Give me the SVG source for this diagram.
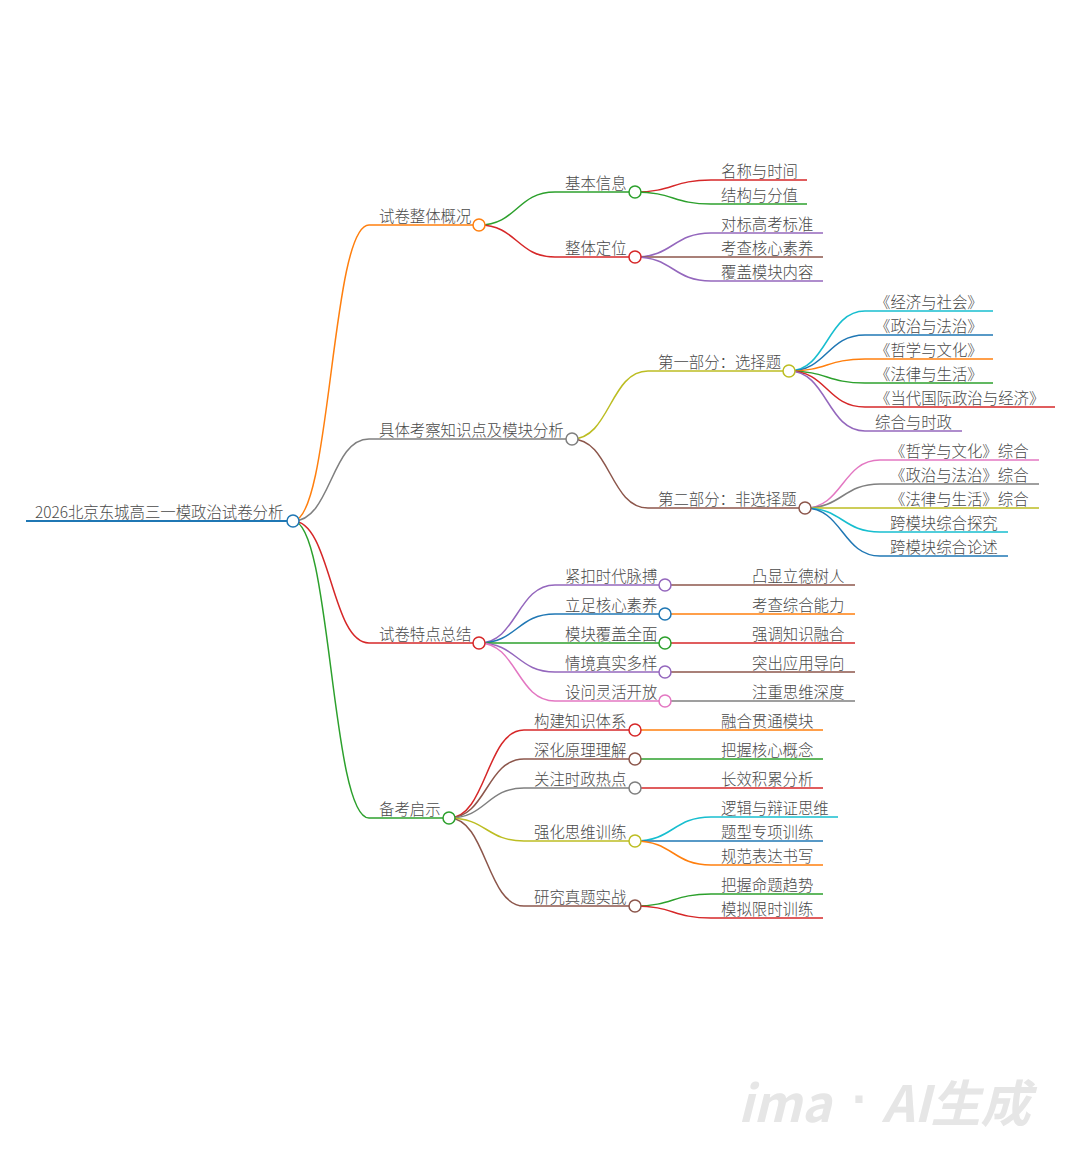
<svg xmlns="http://www.w3.org/2000/svg" width="1080" height="1166" viewBox="0 0 1080 1166">
<style>
.l{fill:none;stroke-width:1.5}
.n{fill:#fff;stroke-width:1.5}
text{font-family:"Noto Sans CJK SC","Noto Sans",sans-serif;font-size:15.4px;font-weight:300;fill:#4a4a4a}
text.wm{font-family:"Noto Sans CJK SC","Noto Sans",sans-serif;font-size:50px;font-weight:700;font-style:italic;fill:#e6e6e6}
text.wd{font-family:"Liberation Sans",sans-serif;font-size:50px;font-weight:700;fill:#e6e6e6}
.b{stroke:#1f77b4}.o{stroke:#ff7f0e}.g{stroke:#2ca02c}.r{stroke:#d62728}.p{stroke:#9467bd}
.br{stroke:#8c564b}.pk{stroke:#e377c2}.gy{stroke:#7f7f7f}.ol{stroke:#bcbd22}.cy{stroke:#17becf}
</style>
<rect width="1080" height="1166" fill="#fff"/>
<g id="connectors">
<path class="l o" d="M293,521 C331,521 331,225 369,225"/>
<path class="l gy" d="M293,521 C331,521 331,439 369,439"/>
<path class="l r" d="M293,521 C331,521 331,643 369,643"/>
<path class="l g" d="M293,521 C331,521 331,818 369,818"/>
<path class="l g" d="M479,225 C517,225 517,192 555,192"/>
<path class="l r" d="M479,225 C517,225 517,257 555,257"/>
<path class="l r" d="M635,192 C673,192 673,180 711,180"/>
<path class="l g" d="M635,192 C673,192 673,204 711,204"/>
<path class="l p" d="M635,257 C673,257 673,233 711,233"/>
<path class="l br" d="M635,257 L711,257"/>
<path class="l p" d="M635,257 C673,257 673,281 711,281"/>
<path class="l ol" d="M572,439 C610,439 610,371 648,371"/>
<path class="l br" d="M572,439 C610,439 610,508 648,508"/>
<path class="l cy" d="M789,371 C827,371 827,311 865,311"/>
<path class="l b" d="M789,371 C827,371 827,335 865,335"/>
<path class="l o" d="M789,371 C827,371 827,359 865,359"/>
<path class="l g" d="M789,371 C827,371 827,383 865,383"/>
<path class="l r" d="M789,371 C827,371 827,407 865,407"/>
<path class="l p" d="M789,371 C827,371 827,431 865,431"/>
<path class="l pk" d="M805,508 C842.5,508 842.5,460 880,460"/>
<path class="l gy" d="M805,508 C842.5,508 842.5,484 880,484"/>
<path class="l ol" d="M805,508 L880,508"/>
<path class="l cy" d="M805,508 C842.5,508 842.5,532 880,532"/>
<path class="l b" d="M805,508 C842.5,508 842.5,556 880,556"/>
<path class="l p" d="M479,643 C517,643 517,585 555,585"/>
<path class="l b" d="M479,643 C517,643 517,614 555,614"/>
<path class="l g" d="M479,643 L555,643"/>
<path class="l p" d="M479,643 C517,643 517,672 555,672"/>
<path class="l pk" d="M479,643 C517,643 517,701 555,701"/>
<path class="l br" d="M665,585 L742,585"/>
<path class="l o" d="M665,614 L742,614"/>
<path class="l r" d="M665,643 L742,643"/>
<path class="l br" d="M665,672 L742,672"/>
<path class="l gy" d="M665,701 L742,701"/>
<path class="l r" d="M449,818 C486.5,818 486.5,730 524,730"/>
<path class="l br" d="M449,818 C486.5,818 486.5,759 524,759"/>
<path class="l gy" d="M449,818 C486.5,818 486.5,788 524,788"/>
<path class="l ol" d="M449,818 C486.5,818 486.5,841 524,841"/>
<path class="l br" d="M449,818 C486.5,818 486.5,906 524,906"/>
<path class="l o" d="M635,730 L711,730"/>
<path class="l g" d="M635,759 L711,759"/>
<path class="l r" d="M635,788 L711,788"/>
<path class="l cy" d="M635,841 C673,841 673,817 711,817"/>
<path class="l b" d="M635,841 L711,841"/>
<path class="l o" d="M635,841 C673,841 673,865 711,865"/>
<path class="l g" d="M635,906 C673,906 673,894 711,894"/>
<path class="l r" d="M635,906 C673,906 673,918 711,918"/>
</g>
<g id="n-root"><line class="l b" style="stroke-width:2" x1="26" y1="521" x2="293" y2="521"/><circle class="n b" cx="293" cy="521" r="6"/><text x="35" y="518">2026北京东城高三一模政治试卷分析</text></g>
<g id="n-a"><line class="l o" x1="369" y1="225" x2="479" y2="225"/><circle class="n o" cx="479" cy="225" r="6"/><text x="379" y="222">试卷整体概况</text></g>
<g id="n-a1"><line class="l g" x1="555" y1="192" x2="635" y2="192"/><circle class="n g" cx="635" cy="192" r="6"/><text x="565" y="189">基本信息</text></g>
<g id="n-a1a"><line class="l r" x1="711" y1="180" x2="807" y2="180"/><text x="721" y="177">名称与时间</text></g>
<g id="n-a1b"><line class="l g" x1="711" y1="204" x2="807" y2="204"/><text x="721" y="201">结构与分值</text></g>
<g id="n-a2"><line class="l r" x1="555" y1="257" x2="635" y2="257"/><circle class="n r" cx="635" cy="257" r="6"/><text x="565" y="254">整体定位</text></g>
<g id="n-a2a"><line class="l p" x1="711" y1="233" x2="823" y2="233"/><text x="721" y="230">对标高考标准</text></g>
<g id="n-a2b"><line class="l br" x1="711" y1="257" x2="823" y2="257"/><text x="721" y="254">考查核心素养</text></g>
<g id="n-a2c"><line class="l p" x1="711" y1="281" x2="823" y2="281"/><text x="721" y="278">覆盖模块内容</text></g>
<g id="n-b"><line class="l gy" x1="369" y1="439" x2="572" y2="439"/><circle class="n gy" cx="572" cy="439" r="6"/><text x="379" y="436">具体考察知识点及模块分析</text></g>
<g id="n-b1"><line class="l ol" x1="648" y1="371" x2="789" y2="371"/><circle class="n ol" cx="789" cy="371" r="6"/><text x="658" y="368">第一部分：选择题</text></g>
<g id="n-b1a"><line class="l cy" x1="865" y1="311" x2="993" y2="311"/><text x="875" y="308">《经济与社会》</text></g>
<g id="n-b1b"><line class="l b" x1="865" y1="335" x2="993" y2="335"/><text x="875" y="332">《政治与法治》</text></g>
<g id="n-b1c"><line class="l o" x1="865" y1="359" x2="993" y2="359"/><text x="875" y="356">《哲学与文化》</text></g>
<g id="n-b1d"><line class="l g" x1="865" y1="383" x2="993" y2="383"/><text x="875" y="380">《法律与生活》</text></g>
<g id="n-b1e"><line class="l r" x1="865" y1="407" x2="1055" y2="407"/><text x="875" y="404">《当代国际政治与经济》</text></g>
<g id="n-b1f"><line class="l p" x1="865" y1="431" x2="962" y2="431"/><text x="875" y="428">综合与时政</text></g>
<g id="n-b2"><line class="l br" x1="648" y1="508" x2="805" y2="508"/><circle class="n br" cx="805" cy="508" r="6"/><text x="658" y="505">第二部分：非选择题</text></g>
<g id="n-b2a"><line class="l pk" x1="880" y1="460" x2="1039" y2="460"/><text x="890" y="457">《哲学与文化》综合</text></g>
<g id="n-b2b"><line class="l gy" x1="880" y1="484" x2="1039" y2="484"/><text x="890" y="481">《政治与法治》综合</text></g>
<g id="n-b2c"><line class="l ol" x1="880" y1="508" x2="1039" y2="508"/><text x="890" y="505">《法律与生活》综合</text></g>
<g id="n-b2d"><line class="l cy" x1="880" y1="532" x2="1008" y2="532"/><text x="890" y="529">跨模块综合探究</text></g>
<g id="n-b2e"><line class="l b" x1="880" y1="556" x2="1008" y2="556"/><text x="890" y="553">跨模块综合论述</text></g>
<g id="n-c"><line class="l r" x1="369" y1="643" x2="479" y2="643"/><circle class="n r" cx="479" cy="643" r="6"/><text x="379" y="640">试卷特点总结</text></g>
<g id="n-c1"><line class="l p" x1="555" y1="585" x2="665" y2="585"/><circle class="n p" cx="665" cy="585" r="6"/><text x="565" y="582">紧扣时代脉搏</text></g>
<g id="n-c1a"><line class="l br" x1="742" y1="585" x2="855" y2="585"/><text x="752" y="582">凸显立德树人</text></g>
<g id="n-c2"><line class="l b" x1="555" y1="614" x2="665" y2="614"/><circle class="n b" cx="665" cy="614" r="6"/><text x="565" y="611">立足核心素养</text></g>
<g id="n-c2a"><line class="l o" x1="742" y1="614" x2="855" y2="614"/><text x="752" y="611">考查综合能力</text></g>
<g id="n-c3"><line class="l g" x1="555" y1="643" x2="665" y2="643"/><circle class="n g" cx="665" cy="643" r="6"/><text x="565" y="640">模块覆盖全面</text></g>
<g id="n-c3a"><line class="l r" x1="742" y1="643" x2="855" y2="643"/><text x="752" y="640">强调知识融合</text></g>
<g id="n-c4"><line class="l p" x1="555" y1="672" x2="665" y2="672"/><circle class="n p" cx="665" cy="672" r="6"/><text x="565" y="669">情境真实多样</text></g>
<g id="n-c4a"><line class="l br" x1="742" y1="672" x2="855" y2="672"/><text x="752" y="669">突出应用导向</text></g>
<g id="n-c5"><line class="l pk" x1="555" y1="701" x2="665" y2="701"/><circle class="n pk" cx="665" cy="701" r="6"/><text x="565" y="698">设问灵活开放</text></g>
<g id="n-c5a"><line class="l gy" x1="742" y1="701" x2="855" y2="701"/><text x="752" y="698">注重思维深度</text></g>
<g id="n-d"><line class="l g" x1="369" y1="818" x2="449" y2="818"/><circle class="n g" cx="449" cy="818" r="6"/><text x="379" y="815">备考启示</text></g>
<g id="n-d1"><line class="l r" x1="524" y1="730" x2="635" y2="730"/><circle class="n r" cx="635" cy="730" r="6"/><text x="534" y="727">构建知识体系</text></g>
<g id="n-d1a"><line class="l o" x1="711" y1="730" x2="823" y2="730"/><text x="721" y="727">融合贯通模块</text></g>
<g id="n-d2"><line class="l br" x1="524" y1="759" x2="635" y2="759"/><circle class="n br" cx="635" cy="759" r="6"/><text x="534" y="756">深化原理理解</text></g>
<g id="n-d2a"><line class="l g" x1="711" y1="759" x2="823" y2="759"/><text x="721" y="756">把握核心概念</text></g>
<g id="n-d3"><line class="l gy" x1="524" y1="788" x2="635" y2="788"/><circle class="n gy" cx="635" cy="788" r="6"/><text x="534" y="785">关注时政热点</text></g>
<g id="n-d3a"><line class="l r" x1="711" y1="788" x2="823" y2="788"/><text x="721" y="785">长效积累分析</text></g>
<g id="n-d4"><line class="l ol" x1="524" y1="841" x2="635" y2="841"/><circle class="n ol" cx="635" cy="841" r="6"/><text x="534" y="838">强化思维训练</text></g>
<g id="n-d4a"><line class="l cy" x1="711" y1="817" x2="838" y2="817"/><text x="721" y="814">逻辑与辩证思维</text></g>
<g id="n-d4b"><line class="l b" x1="711" y1="841" x2="823" y2="841"/><text x="721" y="838">题型专项训练</text></g>
<g id="n-d4c"><line class="l o" x1="711" y1="865" x2="823" y2="865"/><text x="721" y="862">规范表达书写</text></g>
<g id="n-d5"><line class="l br" x1="524" y1="906" x2="635" y2="906"/><circle class="n br" cx="635" cy="906" r="6"/><text x="534" y="903">研究真题实战</text></g>
<g id="n-d5a"><line class="l g" x1="711" y1="894" x2="823" y2="894"/><text x="721" y="891">把握命题趋势</text></g>
<g id="n-d5b"><line class="l r" x1="711" y1="918" x2="823" y2="918"/><text x="721" y="915">模拟限时训练</text></g>
<g id="watermark">
<text class="wm" x="738" y="1122">ima</text>
<text class="wd" x="852" y="1116">·</text>
<text class="wm" x="882" y="1122">AI生成</text>
</g>
</svg>
